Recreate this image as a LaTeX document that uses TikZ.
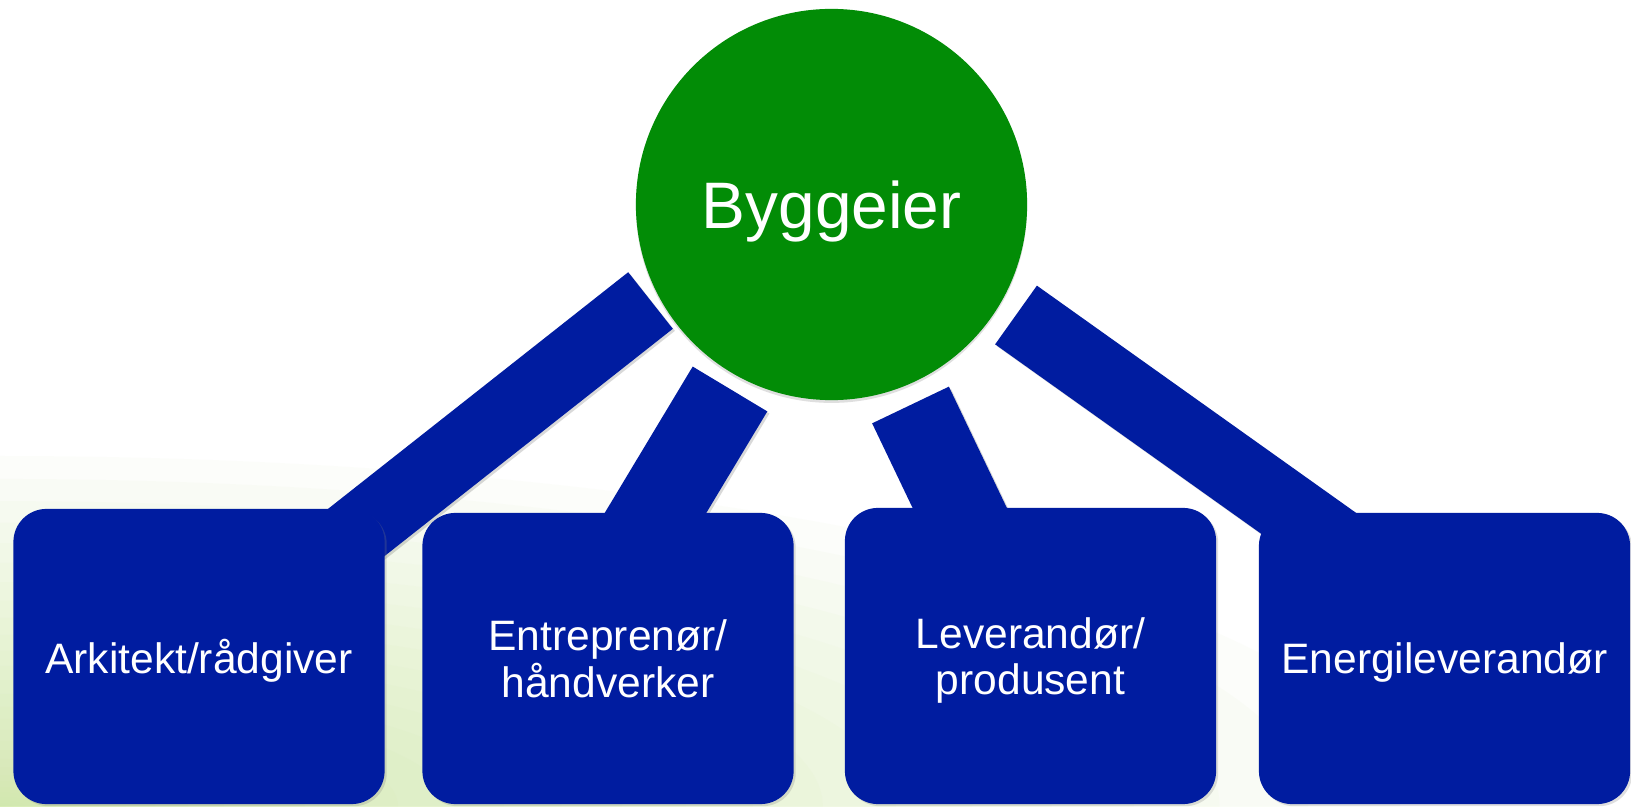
\documentclass[tikz,border=0pt]{standalone}
\usepackage{fontspec}
\setmainfont{Liberation Sans}
\usetikzlibrary{calc,shadows}
\definecolor{boxblue}{RGB}{0,28,160}
\definecolor{ownergreen}{RGB}{2,140,6}
\definecolor{leaf}{RGB}{205,232,160}
\pgfdeclarelayer{bg}
\pgfdeclarelayer{bars}
\pgfsetlayers{bg,bars,main}
\tikzset{
	partbox/.style={fill=boxblue, rounded corners=0.33cm, minimum width=3.71cm, inner sep=0pt, text=white, align=center, text depth=0pt, font=\fontsize{12.1}{13.2}\selectfont, drop shadow={opacity=0.25, shadow xshift=0.6pt, shadow yshift=-0.6pt}},
	bar/.style={draw=boxblue, line width=#1, preaction={draw=black, opacity=0.15, line width=#1, transform canvas={shift={(0.6pt,-0.6pt)}}}},
}
\begin{document}
\begin{tikzpicture}[x=0.01cm, y=0.01cm]
	\useasboundingbox (0,0) rectangle (1631,806);
	\begin{pgfonlayer}{bg}
		\fill[white] (0,0) rectangle (1631,806);
		\begin{scope}
			\clip (0,0) rectangle (1631,806);
			\foreach \k in {1,...,30}
				\fill[leaf, opacity=0.05] (0,0) ellipse [x radius={1400*(\k/30)^2}, y radius={350*(\k/30)^2}];
		\end{scope}
	\end{pgfonlayer}
	\node[circle, fill=ownergreen, minimum size=3.91cm, inner sep=0pt, text=white, text depth=0pt, font=\fontsize{18.7}{20}\selectfont, drop shadow={opacity=0.25, shadow xshift=0pt, shadow yshift=-0.8pt}] (owner) at (831.5,601.5) {Byggeier};
	\node[partbox, minimum height=2.95cm] (arch) at (199,149.5) {Arkitekt/rådgiver};
	\node[partbox, minimum height=2.91cm] (entr) at (608,147.5) {Entreprenør/\\håndverker};
	\node[partbox, minimum height=2.96cm] (lev) at (1030.5,150) {Leverandør/\\produsent};
	\node[partbox, minimum height=2.91cm] (energy) at (1444.5,147.5) {Energileverandør};
	\coordinate (t1) at ($(owner.center)+(-181,-96)$);
	\coordinate (t2) at ($(owner.center)+(-101.5,-184.5)$);
	\coordinate (t3) at ($(owner.center)+(79,-200.5)$);
	\coordinate (t4) at ($(owner.center)+(184.5,-110.5)$);
	\begin{pgfonlayer}{bars}
		\draw[bar=0.72cm] (t1) -- (arch.center);
		\draw[bar=0.87cm] (t2) -- ($(entr.center)+(-40,0)$);
		\draw[bar=0.85cm] (t3) -- (lev.center);
		\draw[bar=0.72cm] (t4) -- ($(energy.center)+(54,0)$);
	\end{pgfonlayer}
\end{tikzpicture}
\end{document}
